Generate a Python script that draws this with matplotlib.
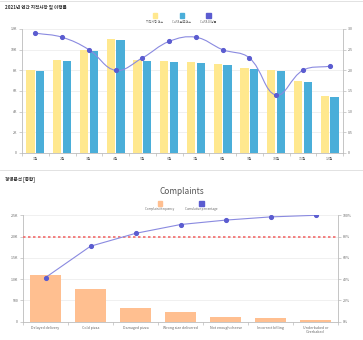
import matplotlib
matplotlib.use("Agg")
import matplotlib.pyplot as plt
from matplotlib.patches import Rectangle
from matplotlib.path import Path
from matplotlib.patches import PathPatch
from matplotlib.lines import Line2D
import numpy as np

plt.rcParams['font.family'] = ['Noto Sans CJK KR', 'DejaVu Sans']

# ---- annual findings data ----
months = ["1월", "2월", "3월", "4월", "5월", "6월", "7월", "8월", "9월", "10월", "11월", "12월"]
findings = [8000, 9000, 10000, 11000, 9000, 8900, 8800, 8650, 8200, 8000, 7000, 5500]
capa_done = [7900, 8900, 9900, 10900, 8900, 8800, 8700, 8500, 8100, 7900, 6900, 5400]
capa_rate = [2.9, 2.8, 2.5, 2.0, 2.3, 2.7, 2.8, 2.5, 2.3, 1.4, 2.0, 2.1]
left_ticks = [0, 2000, 4000, 6000, 8000, 10000, 12000]
left_tick_labels = ["0", "2K", "4K", "6K", "8K", "10K", "12K"]
right_ticks = [0, 0.5, 1.0, 1.5, 2.0, 2.5, 3.0]
right_tick_labels = ["0", "0.5", "1.0", "1.5", "2.0", "2.5", "3.0"]

# ---- complaints pareto data ----
complaints = ["Delayed delivery", "Cold pizza", "Damaged pizza", "Wrong size delivered",
              "Not enough cheese", "Incorrect billing", "Underbaked or\nOverbaked"]
frequency = [1100, 780, 320, 220, 110, 80, 40]
freq_ticks = [0, 500, 1000, 1500, 2000, 2500]
freq_tick_labels = ["0", "500", "1.0K", "1.5K", "2.0K", "2.5K"]
pct_ticks = [0, 20, 40, 60, 80, 100]
pct_tick_labels = ["0%", "20%", "40%", "60%", "80%", "100%"]
threshold = 80

YELLOW = "#ffe88e"
BLUE = "#4aaed9"
LINE = "#8a8ae0"
MARK = "#5b5cd0"
ORANGE = "#ffbf90"
GRID = "#eeeeee"
AX = "#bbbbbb"
TXT = "#666666"

W, H = 363, 340
fig = plt.figure(figsize=(W / 100, H / 100), dpi=100)


def px_axes(l, t, r, b):
    return fig.add_axes([l / W, 1 - b / H, (r - l) / W, (b - t) / H])


def spline_path(ax, xs, ys, tension):
    pts = ax.transData.transform(np.column_stack([xs, ys]))
    n = len(pts)
    cps = []
    for i in range(n):
        prev = pts[i - 1] if i > 0 else pts[i]
        nxt = pts[i + 1] if i < n - 1 else pts[i]
        d01 = np.hypot(*(pts[i] - prev))
        d12 = np.hypot(*(nxt - pts[i]))
        tot = d01 + d12
        s01 = d01 / tot if tot else 0
        s12 = d12 / tot if tot else 0
        c1 = pts[i] - tension * s01 * (nxt - prev)
        c2 = pts[i] + tension * s12 * (nxt - prev)
        cps.append((c1, c2))
    verts = [pts[0]]
    codes = [Path.MOVETO]
    for i in range(n - 1):
        verts += [cps[i][1], cps[i + 1][0], pts[i + 1]]
        codes += [Path.CURVE4] * 3
    inv = ax.transData.inverted()
    return Path(inv.transform(np.array(verts)), codes)


def style_axes(ax, ax2):
    for a in (ax, ax2):
        for s in a.spines.values():
            s.set_visible(False)
    ax.spines['left'].set_visible(True)
    ax.spines['left'].set_color(AX)
    ax.spines['left'].set_linewidth(0.6)
    ax.spines['bottom'].set_visible(True)
    ax.spines['bottom'].set_color(AX)
    ax.spines['bottom'].set_linewidth(0.6)
    ax2.spines['right'].set_visible(True)
    ax2.spines['right'].set_color(AX)
    ax2.spines['right'].set_linewidth(0.6)
    ax.tick_params(axis='y', length=2, width=0.5, color=AX, labelsize=2.6,
                   labelcolor=TXT, pad=1.5)
    ax2.tick_params(axis='y', length=2, width=0.5, color=AX, labelsize=2.6,
                    labelcolor=TXT, pad=1.5)
    ax.tick_params(axis='x', which='major', length=0, labelsize=2.6,
                   labelcolor=TXT, pad=3)
    ax.tick_params(axis='x', which='minor', length=2, width=0.5, color=AX)
    ax.grid(axis='y', color=GRID, linewidth=0.6)
    ax.set_axisbelow(True)


def legend_row(items, y_box, y_text):
    for x, color, label in items:
        fig.patches.append(Rectangle(((x - 2.2) / W, 1 - (y_box + 2.2) / H), 4.4 / W, 4.4 / H,
                                     transform=fig.transFigure, color=color, figure=fig))
        fig.text(x / W, 1 - y_text / H, label, fontsize=2.2, color=TXT,
                 ha='center', va='center')


# card borders
for yb in (0.5, 169.5):
    fig.add_artist(Line2D([0, 1], [1 - yb / H, 1 - yb / H], transform=fig.transFigure,
                          color="#dddddd", linewidth=0.6))

# ================= top chart =================
fig.text(5 / W, 1 - 7 / H, "2021년 연간 지적사항 및 이행률", fontsize=3.3,
         fontweight='bold', color="#333333", ha='left', va='center')
legend_row([(155, YELLOW, "지적사항 건수"), (181.7, BLUE, "CaPA 완료건수"),
            (208.3, MARK, "CaPA 이행률")], 15.7, 22)

ax = px_axes(22, 29, 343, 153)
ax2 = ax.twinx()
x = np.arange(len(months))
ax.bar(x - 0.18, findings, width=0.31, color=YELLOW, zorder=2)
ax.bar(x + 0.18, capa_done, width=0.31, color=BLUE, zorder=2)
ax.set_xlim(-0.5, len(months) - 0.5)
ax.set_ylim(0, 12000)
ax.set_yticks(left_ticks)
ax.set_yticklabels(left_tick_labels)
ax.set_xticks(x)
ax.set_xticklabels(months)
ax.set_xticks(np.arange(-0.5, len(months)), minor=True)
ax2.set_ylim(0, 3.0)
ax2.set_yticks(right_ticks)
ax2.set_yticklabels(right_tick_labels)
style_axes(ax, ax2)
ax2.add_patch(PathPatch(spline_path(ax2, x, capa_rate, 0.4), facecolor='none',
                        edgecolor=LINE, linewidth=0.8, zorder=3))
ax2.plot(x, capa_rate, linestyle='none', marker='o', markersize=2.7,
         color=MARK, zorder=4)

# ================= bottom chart =================
fig.text(5 / W, 1 - 179 / H, "경영분석 [종합]", fontsize=3.3,
         fontweight='bold', color="#333333", ha='left', va='center')
fig.text(182 / W, 1 - 191 / H, "Complaints", fontsize=6, color="#555555",
         ha='center', va='center')
legend_row([(160, ORANGE, "Complaint frequency"), (201.7, MARK, "Cumulative percentage")],
           203.3, 209)

bx = px_axes(23, 215.3, 338, 321.7)
bx2 = bx.twinx()
c = np.arange(len(complaints))
cumulative = np.cumsum(frequency) / np.sum(frequency) * 100
bx.bar(c, frequency, width=0.7, color=ORANGE, zorder=2)
bx.set_xlim(-0.5, len(complaints) - 0.5)
bx.set_ylim(0, 2500)
bx.set_yticks(freq_ticks)
bx.set_yticklabels(freq_tick_labels)
bx.set_xticks(c)
bx.set_xticklabels(complaints, linespacing=1.0)
bx.set_xticks(np.arange(-0.5, len(complaints)), minor=True)
bx2.set_ylim(0, 100)
bx2.set_yticks(pct_ticks)
bx2.set_yticklabels(pct_tick_labels)
style_axes(bx, bx2)
bx2.axhline(threshold, color="#f26b6b", linewidth=1.2, linestyle=(0, (1.5, 1.5)), zorder=3)
bx2.plot(c, cumulative, color=LINE, linewidth=0.8, zorder=4)
bx2.plot(c, cumulative, linestyle='none', marker='o', markersize=2.7, color=MARK, zorder=5)

fig.savefig("out.png", dpi=100)
